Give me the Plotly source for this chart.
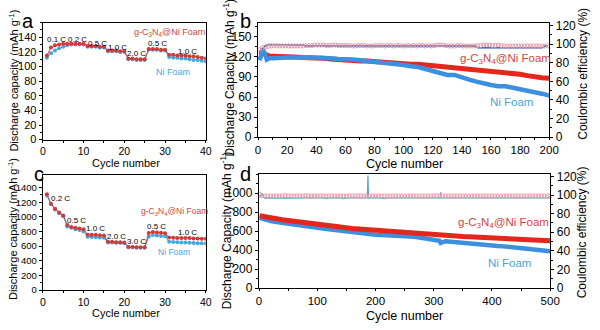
import plotly.graph_objects as go

# ---------------- Panel a data ----------------
a_cycles = list(range(1, 41))
a_gcn = [115, 126, 129, 130, 131, 131, 131, 131, 131, 131,
         128, 128, 128, 127, 127, 122, 122, 122, 121, 121,
         111, 111, 110, 110, 110, 124, 124, 124, 123, 123,
         116, 116, 115, 115, 115, 114, 114, 113, 112, 111]
a_ni = [112, 118, 122, 125, 127, 129, 130, 130, 130, 130,
        127, 127, 127, 126, 126, 121, 121, 121, 120, 120,
        110, 110, 109, 109, 109, 123, 123, 123, 122, 122,
        113, 112, 112, 111, 111, 110, 109, 109, 108, 107]
a_rate_labels = ["0.1 C", "0.2 C", "0.5 C", "1.0 C", "2.0 C", "0.5 C", "1.0 C"]
a_rate_x = [3.3, 8.4, 13.4, 18.3, 23.1, 28.2, 35.6]
a_rate_y = [137, 137, 132, 126, 118, 131, 120]

# ---------------- Panel b data ----------------
b_cycles = [1, 2, 3, 4, 5, 6, 7, 8, 10, 15, 20, 25, 30, 35, 40, 45, 50, 55, 60, 65, 70, 75,
            80, 85, 90, 95, 100, 105, 110, 115, 120, 125, 130, 135, 140, 145, 150, 155,
            160, 165, 170, 175, 180, 185, 190, 195, 200]
b_gcn = [128, 127, 125, 124, 123, 122, 122, 121, 121, 121, 120, 120, 119, 119, 118, 118,
         117, 116, 115, 115, 114, 114, 113, 113, 112, 111, 110, 109, 109, 108, 106, 105,
         105, 104, 103, 102, 100, 99, 98, 97, 96, 95, 94, 92, 90, 89, 88]
b_ni = [115, 121, 127, 128, 124, 116, 117, 118, 118, 119, 119, 119, 119, 118, 118, 118,
        118, 117, 117, 116, 115, 114, 113, 112, 111, 110, 108, 106, 105, 102, 99, 96,
        93, 93, 89, 86, 83, 80, 78, 76, 76, 74, 72, 70, 68, 65, 62]
b_ce_cycles = list(range(1, 200, 2))
b_ce_gcn = [94, 96, 97, 97.5, 98, 98, 98, 98, 98, 98,
            98, 98, 98, 98, 98, 98, 98.5, 98.5, 98.5, 99,
            99, 99, 99, 98.5, 98.5, 99, 99, 98.5, 98.5, 98.5,
            98.5, 98.5, 98, 98, 98.5, 98.5, 98.5, 98, 98, 98,
            98.5, 98.5, 98.5, 98, 98.5, 98.5, 98, 98.5, 98.5, 98,
            98, 98.5, 98, 98.5, 98, 98.5, 98.5, 98, 98.5, 98,
            98.5, 99, 99, 99, 98.5, 98, 98, 98, 98.5, 98.5,
            98, 98, 98, 98, 98, 98.5, 98.5, 99, 99, 99,
            98.5, 98.5, 99, 98.5, 98, 98, 98, 98, 98, 98,
            98, 98, 98, 98, 98, 98, 98, 98, 98, 98]
b_ce_ni = [92, 95, 98, 99.5, 99.5, 99.5, 99.5, 99.5, 99.5, 99.5,
           99.5, 99.5, 99.5, 99.5, 99.5, 99, 98, 98, 98, 98,
           98, 98, 98, 98, 98, 98, 98, 98, 98, 98,
           98, 98, 98, 98, 98, 98, 98, 98, 98, 98,
           98, 98, 98, 98, 98, 98, 98, 98, 98, 98,
           98, 98, 98, 98, 98, 98, 98, 98, 98, 98,
           98, 98, 98, 98, 98, 98, 98, 98, 98, 98,
           98, 98, 98, 98, 98, 96, 96, 96, 96, 96,
           96, 96, 96, 96, 96, 96, 96, 96, 96, 96,
           96, 96, 96, 96, 96, 96, 96, 96, 98, 98]

# ---------------- Panel c data ----------------
c_cycles = list(range(1, 41))
c_gcn = [1310, 1180, 1110, 1060, 1020, 890, 860, 850, 840, 830,
         755, 755, 755, 750, 745, 660, 660, 655, 655, 650,
         590, 590, 585, 585, 585, 780, 792, 788, 783, 775,
         720, 715, 712, 710, 710, 710, 706, 705, 702, 700]
c_ni = [1290, 1175, 1100, 1050, 1010, 870, 850, 830, 820, 800,
        730, 725, 722, 720, 715, 650, 650, 645, 645, 640,
        585, 585, 580, 580, 580, 730, 752, 746, 740, 735,
        660, 656, 654, 650, 650, 646, 644, 640, 640, 635]
c_rate_labels = ["0.2 C", "0.5 C", "1.0 C", "2.0 C", "3.0 C", "0.5 C", "1.0 C"]
c_rate_x = [4.4, 8.2, 13.0, 18.1, 22.9, 27.9, 35.5]
c_rate_y = [1246, 947, 845, 731, 660, 872, 793]

# ---------------- Panel d data ----------------
d_cycles = [1] + list(range(10, 501, 10))
d_gcn = [762, 750, 740, 730, 721, 712, 703, 695, 687, 679, 670, 663, 656, 649, 642, 635,
         629, 624, 619, 615, 611, 605, 598, 592, 588, 584, 579, 574, 569, 565, 562, 558,
         555, 552, 548, 545, 542, 539, 535, 532, 529, 525, 522, 519, 516, 513, 510, 507,
         504, 501, 498]
d_ni_cycles = [1, 10, 20, 30, 40, 50, 60, 70, 80, 90, 100, 110, 120, 130, 140, 150, 160,
               170, 180, 190, 200, 210, 220, 230, 240, 250, 260, 270, 280, 290, 300, 310,
               312, 320, 330, 340, 350, 360, 370, 380, 390, 400, 410, 420, 430, 440, 450,
               460, 470, 480, 490, 500]
d_ni = [740, 722, 707, 696, 686, 676, 667, 659, 651, 643, 635, 627, 619, 611, 603, 597,
        590, 582, 572, 566, 562, 560, 559, 557, 554, 550, 545, 538, 528, 517, 506, 498,
        475, 494, 489, 482, 476, 471, 464, 456, 451, 447, 444, 440, 434, 429, 423, 418,
        411, 404, 396, 388]
d_ce_cycles = [1] + list(range(5, 501, 5))
d_ce_gcn = [101, 99.5, 99, 99, 99, 99, 99, 99, 99, 99.5,
            99, 99, 99, 99, 99, 99, 99.5, 99, 99, 99,
            99, 99, 99, 99, 99, 99, 99, 99, 99, 99,
            99, 99, 99, 99.5, 99, 99, 99, 99, 99, 99,
            99, 99, 99, 99, 99, 99, 99, 99, 99, 99,
            99, 99, 99, 99, 99, 99, 99, 99, 99, 99,
            99, 99.5, 99, 99, 99, 99, 99, 99, 99, 99,
            99, 99, 99, 99, 99, 99, 99, 99, 99, 99,
            99, 99, 99, 99, 99, 99, 99, 99, 99, 99,
            99, 99, 99, 99, 99, 99, 99, 99, 99, 99, 99]
d_ce_ni_cycles = [1, 5, 10, 20, 30, 40, 50, 60, 70, 80, 90, 100, 110, 115, 120, 130, 140,
                  145, 150, 160, 170, 180, 186, 187, 188, 190, 200, 210, 215, 220, 230,
                  240, 250, 260, 270, 280, 290, 300, 311, 312, 313, 320, 330, 340, 350,
                  360, 370, 380, 390, 400, 410, 420, 430, 440, 450, 460, 470, 480, 490, 500]
d_ce_ni = [97, 101, 96.5, 97, 96.5, 97, 97, 96.5, 97, 97, 97, 97, 97, 96, 97, 97, 97,
           96, 97, 97, 97, 97, 97, 121, 96.5, 97, 97, 97, 96, 97, 97,
           97, 97, 97, 97, 97, 97, 97, 97, 103, 97, 97, 97, 97, 97,
           97, 97, 97, 97, 97, 97, 97, 97, 97, 97, 97, 97, 97, 97, 97]

# ---------------- styling ----------------
FONT = "Arial, Liberation Sans, sans-serif"
RED_A = "#cf3b3b"
BLUE_A = "#45a8dc"
RED_B = "#e4261c"
BLUE_B = "#3d8fdf"
PINK = "#e99aa4"
NAVY = "#1f4fb0"
RED_TXT = "#d24545"
BLUE_TXT = "#44a6dc"

W, H = 600, 330


def px_x(p):
    return p / W


def px_y(p):
    return 1 - p / H


fig = go.Figure()

# Panel a
fig.add_trace(go.Scatter(x=a_cycles, y=a_ni, mode="lines+markers", xaxis="x", yaxis="y",
                         line=dict(color=BLUE_A, width=1), marker=dict(color=BLUE_A, size=4)))
fig.add_trace(go.Scatter(x=a_cycles, y=a_gcn, mode="lines+markers", xaxis="x", yaxis="y",
                         line=dict(color=RED_A, width=1), marker=dict(color=RED_A, size=4)))

# Panel b
fig.add_trace(go.Scatter(x=b_cycles, y=b_gcn, mode="lines", xaxis="x2", yaxis="y2",
                         line=dict(color=RED_B, width=5)))
fig.add_trace(go.Scatter(x=b_cycles, y=b_ni, mode="lines", xaxis="x2", yaxis="y2",
                         line=dict(color=BLUE_B, width=4.5)))
fig.add_trace(go.Scatter(x=b_ce_cycles, y=b_ce_ni, mode="lines", xaxis="x2", yaxis="y3",
                         line=dict(color=NAVY, width=1.5)))
fig.add_trace(go.Scatter(x=b_ce_cycles, y=b_ce_gcn, mode="markers", xaxis="x2", yaxis="y3",
                         marker=dict(symbol="circle-open", color=PINK, size=4,
                                     line=dict(width=1, color=PINK))))

# Panel c
fig.add_trace(go.Scatter(x=c_cycles, y=c_ni, mode="lines+markers", xaxis="x3", yaxis="y4",
                         line=dict(color=BLUE_A, width=1), marker=dict(color=BLUE_A, size=4)))
fig.add_trace(go.Scatter(x=c_cycles, y=c_gcn, mode="lines+markers", xaxis="x3", yaxis="y4",
                         line=dict(color=RED_A, width=1), marker=dict(color=RED_A, size=4)))

# Panel d
fig.add_trace(go.Scatter(x=d_ni_cycles, y=d_ni, mode="lines", xaxis="x4", yaxis="y5",
                         line=dict(color=BLUE_B, width=4.5)))
fig.add_trace(go.Scatter(x=d_cycles, y=d_gcn, mode="lines", xaxis="x4", yaxis="y5",
                         line=dict(color=RED_B, width=5)))
fig.add_trace(go.Scatter(x=d_ce_ni_cycles, y=d_ce_ni, mode="lines", xaxis="x4", yaxis="y6",
                         line=dict(color=BLUE_A, width=1.2)))
fig.add_trace(go.Scatter(x=d_ce_cycles, y=d_ce_gcn, mode="markers", xaxis="x4", yaxis="y6",
                         marker=dict(symbol="circle-open", color=PINK, size=4,
                                     line=dict(width=1, color=PINK))))

axis_common = dict(showgrid=False, zeroline=False, showline=True, linecolor="black",
                   linewidth=1.3, ticks="outside", ticklen=3, tickwidth=1.2,
                   tickcolor="black", color="black")
xaxis_common = dict(axis_common, ticklen=2)


def minor(dt):
    return dict(ticks="outside", ticklen=2, tickwidth=1, tickcolor="black", dtick=dt)


tf_a = dict(family=FONT, size=11, color="black")
tf_ax = dict(family=FONT, size=10.5, color="black")
tf_c = dict(family=FONT, size=9.5, color="black")
tf_b = dict(family=FONT, size=12, color="black")
tf_bx = dict(family=FONT, size=11.5, color="black")

layout = dict(
    width=W, height=H, autosize=False, showlegend=False,
    margin=dict(l=0, r=0, t=0, b=0),
    paper_bgcolor="white", plot_bgcolor="white",
    font=dict(family=FONT, color="black"),
    xaxis=dict(xaxis_common, domain=[px_x(40.7), px_x(207.3)], anchor="y", range=[0, 40],
               dtick=10, tick0=0, minor=minor(5), mirror=True, tickfont=tf_ax),
    yaxis=dict(axis_common, domain=[px_y(140.3), px_y(19.3)], anchor="x", range=[0, 160],
               tickvals=[0, 20, 40, 60, 80, 100, 120, 140], minor=minor(10), mirror=True,
               tickfont=tf_a),
    xaxis2=dict(xaxis_common, domain=[px_x(260.7), px_x(558.3)], anchor="y2", range=[0, 200],
                dtick=20, tick0=0, minor=minor(10), mirror=True, tickfont=tf_bx),
    yaxis2=dict(axis_common, domain=[px_y(137.7), px_y(19.3)], anchor="x2", range=[0, 171.3],
                tickvals=[0, 30, 60, 90, 120, 150], minor=minor(15), tickfont=tf_b),
    yaxis3=dict(axis_common, overlaying="y2", anchor="x2", side="right", range=[0, 123.1],
                tickvals=[0, 20, 40, 60, 80, 100, 120], minor=minor(10), tickfont=tf_b),
    xaxis3=dict(xaxis_common, domain=[px_x(40.7), px_x(207.3)], anchor="y4", range=[0, 40],
                dtick=10, tick0=0, minor=minor(5), mirror=True, tickfont=tf_ax),
    yaxis4=dict(axis_common, domain=[px_y(296), px_y(177)], anchor="x3", range=[0, 1570],
                tickvals=[0, 200, 400, 600, 800, 1000, 1200, 1400], minor=minor(100),
                mirror=True, tickfont=tf_c),
    xaxis4=dict(xaxis_common, domain=[px_x(261.7), px_x(559.3)], anchor="y5", range=[0, 500],
                dtick=100, tick0=0, minor=minor(50), mirror=True, tickfont=tf_bx),
    yaxis5=dict(axis_common, domain=[px_y(294), px_y(176)], anchor="x4", range=[0, 1200],
                tickvals=[0, 200, 400, 600, 800, 1000], minor=minor(100), tickfont=tf_b),
    yaxis6=dict(axis_common, overlaying="y5", anchor="x4", side="right", range=[0, 122.4],
                tickvals=[0, 20, 40, 60, 80, 100, 120], minor=minor(10), tickfont=tf_b),
)
fig.update_layout(**layout)

ann = []


def paper_text(text, x, y, size, angle=0, color="black"):
    ann.append(dict(text=text, x=px_x(x), y=px_y(y), xref="paper", yref="paper",
                    showarrow=False, textangle=angle, xanchor="center", yanchor="middle",
                    borderpad=0, font=dict(family=FONT, size=size, color=color)))


def data_text(text, x, y, xr, yr, size, color="black"):
    ann.append(dict(text=text, x=x, y=y, xref=xr, yref=yr, showarrow=False,
                    xanchor="center", yanchor="middle",
                    font=dict(family=FONT, size=size, color=color)))


# panel letters
paper_text("a", 26, 18, 20)
paper_text("b", 248, 18, 20)
paper_text("c", 37, 176, 20)
paper_text("d", 248, 176, 20)

# axis titles
paper_text("Discharge capacity (mAh g<sup>-1</sup>)", 11.5, 79, 11, angle=-90)
paper_text("Discharge capacity (mAh g<sup>-1</sup>)", 10, 233, 11, angle=-90)
paper_text("Discharge Capacity (mAh g<sup>-1</sup>)", 231, 76, 12, angle=-90)
paper_text("Discharge Capacity (mAh g<sup>-1</sup>)", 228, 234, 12, angle=-90)
paper_text("Coulombic efficiency (%)", 592, 72, 12, angle=-90)
paper_text("Coulombic efficiency (%)", 592, 236, 12, angle=-90)
paper_text("Cycle number", 126, 164, 11)
paper_text("Cycle number", 126, 320, 11)
paper_text("Cycle number", 410, 165, 12.5)
paper_text("Cycle number", 410, 322.5, 12.5)

# rate labels
for t, x, y in zip(a_rate_labels, a_rate_x, a_rate_y):
    data_text(t, x, y, "x", "y", 8)
for t, x, y in zip(c_rate_labels, c_rate_x, c_rate_y):
    data_text(t, x, y, "x3", "y4", 8)

# series labels
gcn_label = "g-C<sub>3</sub>N<sub>4</sub>@Ni Foam"
data_text(gcn_label, 31, 146, "x", "y", 9, RED_TXT)
data_text("Ni Foam", 32, 93, "x", "y", 9, BLUE_TXT)
data_text(gcn_label, 170, 117, "x2", "y2", 11.5, RED_TXT)
data_text("Ni Foam", 174, 52, "x2", "y2", 11.5, BLUE_TXT)
data_text(gcn_label, 32.4, 1070, "x3", "y4", 8.5, RED_TXT)
data_text("Ni Foam", 32.1, 520, "x3", "y4", 8.5, BLUE_TXT)
data_text(gcn_label, 420, 682, "x4", "y5", 11.5, RED_TXT)
data_text("Ni Foam", 430, 264, "x4", "y5", 11.5, BLUE_TXT)

fig.update_layout(annotations=ann)
fig.write_html("out.html")
